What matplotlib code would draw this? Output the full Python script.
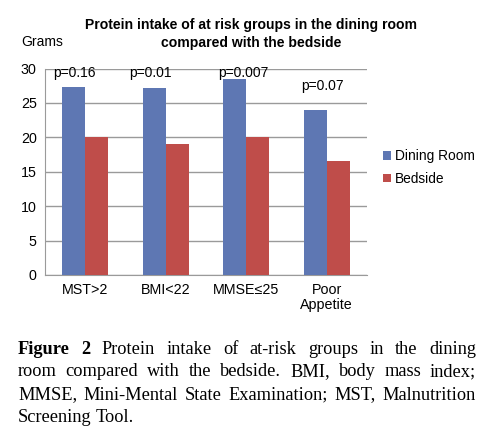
import numpy as np
import matplotlib.pyplot as plt

groups = ['MST>2', 'BMI<22', 'MMSE≤25', 'Poor\nAppetite']
dining = [27.3, 27.2, 28.5, 24.0]
bedside = [20.0, 19.0, 20.0, 16.6]
p_labels = ['p=0.16', 'p=0.01', 'p=0.007', 'p=0.07']
p_xpos = [-0.14, 0.81, 1.97, 2.95]
p_ypos = [29.4, 29.4, 29.4, 27.4]

blue = '#5E77B3'
red = '#BF4D4A'
grid_c = '#9a9a9a'

plt.rcParams['font.family'] = ['Liberation Sans', 'DejaVu Sans']

fig = plt.figure(figsize=(4.92, 4.30), dpi=100)
ax = fig.add_axes([45 / 492, 1 - 275 / 430, 322 / 492, 206.5 / 430])

x = np.arange(len(groups))
w = 0.285
ax.bar(x - w / 2, dining, w, color=blue, label='Dining Room', zorder=3)
ax.bar(x + w / 2, bedside, w, color=red, label='Bedside', zorder=3)

ax.set_xlim(-0.5, len(groups) - 0.5)
ax.set_ylim(0, 30)
ax.set_yticks(range(0, 31, 5))
ax.yaxis.grid(True, color=grid_c, linewidth=1)
ax.set_axisbelow(True)
for s in ['top', 'right']:
    ax.spines[s].set_visible(False)
for s in ['left', 'bottom']:
    ax.spines[s].set_color(grid_c)
ax.tick_params(axis='both', length=0, labelsize=10.3, pad=6)
ax.tick_params(axis='y', pad=6)
ax.set_xticks(x)
ax.set_xticklabels(groups, linespacing=1.1)

for lab, px, py in zip(p_labels, p_xpos, p_ypos):
    ax.text(px, py, lab, ha='center', va='center', fontsize=10)

ax.legend(loc='center left', bbox_to_anchor=(1.01, 0.52), frameon=False,
          fontsize=9.9, handlelength=0.6, handleheight=0.6, handletextpad=0.3,
          labelspacing=0.6)

fig.text(251 / 492, 1 - 34 / 430, 'Protein intake of at risk groups in the dining room\ncompared with the bedside',
         ha='center', va='center', fontsize=10.1, fontweight='bold', linespacing=1.4)
fig.text(21 / 492, 1 - 42 / 430, 'Grams', ha='left', va='center', fontsize=10)

# caption, justified
lines = [
    ['Figure', '2', 'Protein', 'intake', 'of', 'at-risk', 'groups', 'in', 'the', 'dining'],
    ['room', 'compared', 'with', 'the', 'bedside.', 'BMI,', 'body', 'mass', 'index;'],
    ['MMSE,', 'Mini-Mental', 'State', 'Examination;', 'MST,', 'Malnutrition'],
    ['Screening', 'Tool.'],
]
left, right = 18, 476
ys = [349, 372, 395, 418]
fig.canvas.draw()
r = fig.canvas.get_renderer()
for i, (words, yy) in enumerate(zip(lines, ys)):
    arts = []
    for j, wd in enumerate(words):
        bold = (i == 0 and j < 2)
        t = fig.text(0, 1 - yy / 430, wd, ha='left', va='center', fontsize=13.2,
                     family='Liberation Serif', fontweight='bold' if bold else 'normal')
        arts.append(t)
    widths = [a.get_window_extent(r).width for a in arts]
    if i < len(lines) - 1:
        gap = (right - left - sum(widths)) / (len(words) - 1)
    else:
        gap = 4
    xx = left
    for a, wdt in zip(arts, widths):
        a.set_x(xx / 492)
        xx += wdt + gap

fig.savefig('out.png', dpi=100)
